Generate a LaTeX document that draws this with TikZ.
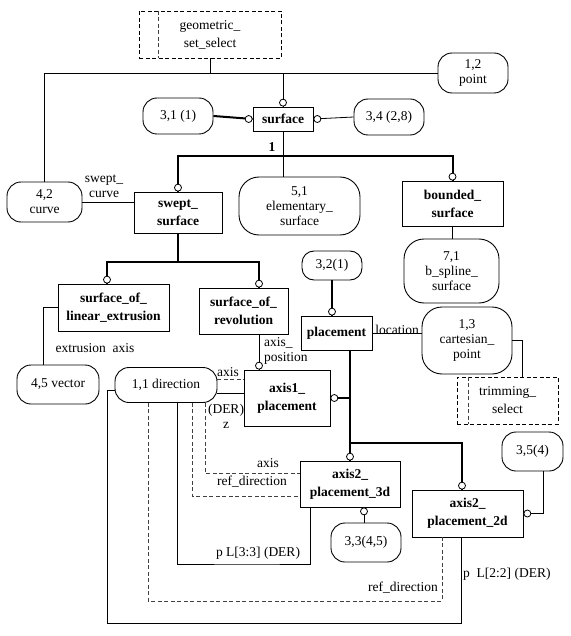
\documentclass[tikz,border=0pt]{standalone}
\usepackage{fontspec}
\setmainfont{Liberation Serif}

\tikzset{
	entity/.style={draw, line width=0.9pt, align=center, inner sep=1pt, font=\fontsize{13.5}{18}\selectfont\bfseries},
	refnode/.style={draw, line width=0.9pt, rounded corners=14pt, align=center, inner sep=1pt, font=\fontsize{13.5}{15}\selectfont},
	selbox/.style={draw, dash pattern=on 4pt off 2.5pt, line width=0.8pt, align=center, inner sep=1pt, font=\fontsize{13.5}{18}\selectfont},
	link/.style={line width=0.8pt},
	heavy/.style={line width=2pt},
	dlink/.style={dash pattern=on 4pt off 2.5pt, line width=0.8pt, black!75},
	ring/.style={circle, draw, fill=white, line width=0.8pt, inner sep=0pt, minimum size=7pt},
	lbl/.style={inner sep=0pt, align=center, font=\fontsize{13.5}{15}\selectfont}
}

\begin{document}
\begin{tikzpicture}[x=1pt,y=-1pt]

\def \wide {20pt} % corner radius of the tall ones
\useasboundingbox (0,0) rectangle (570,636);

% selects
\node[selbox, minimum width=142pt, minimum height=47pt] (gss) at (210,34.5) {geometric\_\\set\_select};
\node[selbox, minimum width=101pt, minimum height=47pt] (trim) at (507.5,400.5) {trimming\_\\select};
\draw[dlink] ([xshift=20pt]gss.north west) -- ([xshift=20pt]gss.south west);
\draw[dlink] ([xshift=12pt]trim.north west) -- ([xshift=12pt]trim.south west);

% entities
\node[entity, minimum width=60pt, minimum height=24pt] (surf) at (283,119) {surface};
\node[entity, minimum width=88pt, minimum height=41pt] (swept) at (178,212.5) {swept\_\\surface};
\node[entity, minimum width=101pt, minimum height=45pt] (bounded) at (452.5,203.5) {bounded\_\\surface};
\node[entity, minimum width=111pt, minimum height=47pt] (linext) at (113.5,307.5) {surface\_of\_\\linear\_extrusion};
\node[entity, minimum width=89pt, minimum height=46pt] (rev) at (243.5,311) {surface\_of\_\\revolution};
\node[entity, minimum width=71pt, minimum height=34pt] (place) at (336.5,333) {placement};
\node[entity, minimum width=86pt, minimum height=56pt] (axis1) at (287,398) {axis1\_\\placement};
\node[entity, minimum width=100pt, minimum height=46pt] (axis3d) at (350,484) {axis2\_\\placement\_3d};
\node[entity, minimum width=111pt, minimum height=47pt] (axis2d) at (467.5,513.5) {axis2\_\\placement\_2d};

% references to other pages
\node[refnode, minimum width=70pt, minimum height=40pt] (pt) at (473,73) {1,2\\point};
\node[refnode, minimum width=70pt, minimum height=36pt] (r31) at (178,116) {3,1 (1)};
\node[refnode, minimum width=70pt, minimum height=36pt] (r34) at (389,117) {3,4 (2,8)};
\node[refnode, minimum width=75pt, minimum height=40pt] (curve) at (44.5,202) {4,2\\curve};
\node[refnode, rounded corners=\wide, minimum width=121pt, minimum height=58pt] (elem) at (299.5,206) {5,1\\elementary\_\\surface};
\node[refnode, rounded corners=\wide, minimum width=95pt, minimum height=64pt] (bspl) at (451.5,271) {7,1\\b\_spline\_\\surface};
\node[refnode, rounded corners=12pt, minimum width=60pt, minimum height=29pt] (r32) at (332,265.5) {3,2(1)};
\node[refnode, rounded corners=\wide, minimum width=90pt, minimum height=67pt] (cart) at (467,340.5) {1,3\\cartesian\_\\point};
\node[refnode, minimum width=82pt, minimum height=39pt] (vec) at (58,384.5) {4,5 vector};
\node[refnode, minimum width=102pt, minimum height=35pt] (dir) at (166,385) {1,1 direction};
\node[refnode, minimum width=70pt, minimum height=39pt] (r33) at (366,542.5) {3,3(4,5)};
\node[refnode, minimum width=61pt, minimum height=39pt] (r35) at (532.5,451.5) {3,5(4)};

% attachment points
\coordinate (lxN) at ([xshift=-6.5pt]linext.north);
\coordinate (rvN) at ([xshift=15.5pt]rev.north);
\coordinate (rvS) at ([xshift=15.5pt]rev.south);
\coordinate (a1N) at (rvS |- axis1.north);
\coordinate (plN) at (r32.south |- place.north);
\coordinate (plS) at ([xshift=13.5pt]place.south);
\coordinate (a2N) at ([xshift=-5.5pt]axis2d.north);
\coordinate (a3S) at ([xshift=14pt]axis3d.south);
\coordinate (j1) at (283,156);
\coordinate (j2) at (178,262);
\coordinate (j3) at (350,443);
\coordinate (j4) at (250,564);
\coordinate (j5) at (300,601);
\coordinate (j6) at (107,623);

% thin links
\draw[link] (curve.north) |- (pt.west);
\draw[link] (gss.south) -- (gss.south |- pt.west);
\draw[link] (surf.north) -- (surf.north |- pt.west);
\draw[link] (surf.east) -- (r34.west);
\draw[link] (surf.south) -- (surf.south |- elem.north);
\draw[link] (curve.east) -- (curve.east -| swept.west);
\draw[link] (bounded.south) -- (bounded.south |- bspl.north);
\draw[link] (linext.west) -| ([xshift=-15pt]vec.north);
\draw[link] (rvS) -- (a1N);
\draw[link] (place.east) -- (place.east -| cart.west);
\draw[link] (cart.east) -| ([xshift=14.5pt]trim.north);
\draw[link] (a3S) -- (a3S |- r33.north);
\draw[link] ([xshift=10.5pt]r35.south) |- (axis2d.east);
\draw[link] ([yshift=-8pt]dir.east) -- ([yshift=-8pt]dir.east -| axis1.west);
\draw[link] ([xshift=11pt]dir.south) |- (j4) -| ([xshift=-40pt]axis3d.south);
\draw[link] ([yshift=-5pt]dir.west) -| (j6) -| ([xshift=-6.5pt]axis2d.south);

% subtypes and heavy links
\draw[heavy] (r31.east) -- (surf.west);
\draw[heavy] (swept.north) |- (j1) -| (bounded.north);
\draw[heavy] (swept.south) -- (j2);
\draw[heavy] (lxN) |- (j2) -| (rvN);
\draw[heavy] (r32.south) -- (plN);
\draw[heavy] (plS) -- (j3) -- (axis3d.north);
\draw[heavy] (j3) -| (a2N);
\draw[heavy] (axis1.east) -- (axis1.east -| j3);

% optional links
\draw[dlink] ([yshift=6pt]dir.east) -- ([yshift=6pt]dir.east -| axis1.west);
\draw[dlink] ([xshift=39pt]dir.south) |- ([yshift=11pt]axis3d.west);
\draw[dlink] ([xshift=26pt]dir.south) |- ([yshift=-12pt]axis3d.west);
\draw[dlink] ([xshift=-18pt]dir.south) |- (j5) -| ([xshift=-25.5pt]axis2d.south);

\foreach \p/\a in {surf.north/south, surf.west/east, surf.east/west, swept.north/south,
	bounded.north/south, lxN/south, rvN/south, a1N/south, plN/south, axis1.east/west,
	axis3d.north/south, a2N/south, a3S/north, axis2d.east/west}
{
	\node[ring, anchor=\a] at (\p) {};
}

% role names
\node[lbl, font=\fontsize{13.5}{15}\selectfont\bfseries] (one) at (272,147) {1};
\node[lbl] (swc) at (104,186) {swept\_\\curve};
\node[lbl] (ea) at (95,348) {extrusion\ \ axis};
\node[lbl, align=left, anchor=west] (ap) at (264,351) {axis\_\\position};
\node[lbl] (loc) at (397,330) {location};
\node[lbl] (ax1) at (228,372) {axis};
\node[lbl] (der) at (226,416) {(DER)\\z};
\node[lbl] (ax2) at (268,463) {axis};
\node[lbl] (rd1) at (252,482) {ref\_direction};
\node[lbl] (pl3) at (258,553) {p L[3:3] (DER)};
\node[lbl] (rd2) at (403,588) {ref\_direction};
\node[lbl, anchor=west] (pl2) at (463,574) {p\ \ L[2:2] (DER)};

\end{tikzpicture}
\end{document}
